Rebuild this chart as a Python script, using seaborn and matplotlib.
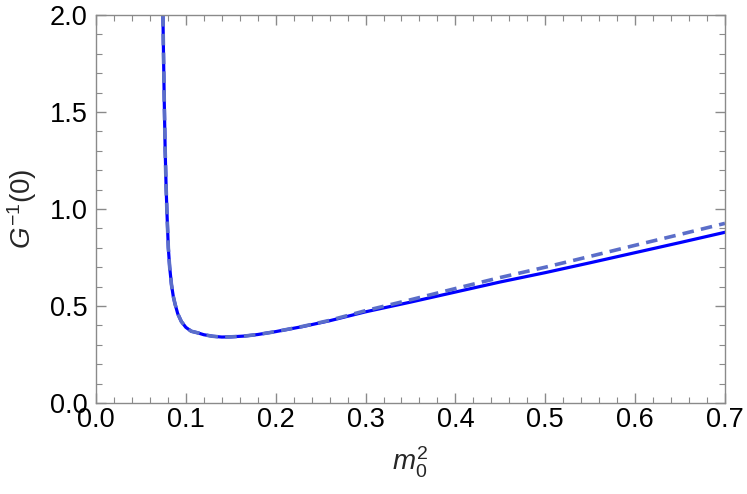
import numpy as np
import pandas as pd
import matplotlib
matplotlib.use("Agg")
import matplotlib.pyplot as plt
import seaborn as sns
from matplotlib.ticker import MultipleLocator

# valores
m2 = [0.0745, 0.0752, 0.0760, 0.0770, 0.0780, 0.0790, 0.0805, 0.0820, 0.0840,
      0.0860, 0.0880, 0.0910, 0.0950, 0.1000, 0.1060, 0.1130, 0.1200, 0.1300,
      0.1400, 0.1500, 0.1650, 0.1800, 0.2000, 0.2300, 0.2600, 0.3000, 0.3500,
      0.4000, 0.4500, 0.5000, 0.5500, 0.6000, 0.6500, 0.7000]
g_full = [2.00, 1.78, 1.55, 1.30, 1.12, 0.98, 0.80, 0.70, 0.61,
          0.55, 0.51, 0.46, 0.42, 0.39, 0.37, 0.362, 0.352, 0.344,
          0.340, 0.341, 0.345, 0.353, 0.368, 0.394, 0.424, 0.470, 0.520,
          0.572, 0.624, 0.672, 0.723, 0.775, 0.827, 0.880]
g_aprox = [2.00, 1.78, 1.55, 1.30, 1.12, 0.98, 0.80, 0.70, 0.61,
           0.55, 0.51, 0.46, 0.42, 0.39, 0.37, 0.362, 0.352, 0.344,
           0.340, 0.341, 0.345, 0.353, 0.368, 0.395, 0.426, 0.476, 0.532,
           0.590, 0.647, 0.700, 0.756, 0.813, 0.869, 0.926]

df = pd.DataFrame({"m2": m2, "full": g_full, "aprox": g_aprox})

sns.set_style("ticks")
plt.rcParams['font.family'] = ['Liberation Sans', 'DejaVu Sans']
plt.rcParams['mathtext.fontset'] = 'custom'
plt.rcParams['mathtext.rm'] = 'Liberation Sans'
plt.rcParams['mathtext.it'] = 'Liberation Sans:italic'

fig = plt.figure(figsize=(7.47, 4.94), dpi=100)
ax = fig.add_axes([0.1285, 0.1842, 0.842, 0.7854])

sns.lineplot(data=df, x="m2", y="full", ax=ax, color="#0000ff", lw=2.3,
             sort=False, estimator=None)
sns.lineplot(data=df, x="m2", y="aprox", ax=ax, color="#5b6ec9", lw=2.6,
             sort=False, estimator=None, dashes=False, linestyle=(0, (3.2, 2.0)))

ax.set_xlim(0, 0.7)
ax.set_ylim(0, 2.0)
ax.xaxis.set_major_locator(MultipleLocator(0.1))
ax.xaxis.set_minor_locator(MultipleLocator(0.02))
ax.yaxis.set_major_locator(MultipleLocator(0.5))
ax.yaxis.set_minor_locator(MultipleLocator(0.1))
ax.xaxis.set_major_formatter(matplotlib.ticker.FormatStrFormatter('%.1f'))
ax.yaxis.set_major_formatter(matplotlib.ticker.FormatStrFormatter('%.1f'))

gris = "#8a8a8a"
for s in ax.spines.values():
    s.set_visible(True)
    s.set_color(gris)
    s.set_linewidth(1.0)
ax.tick_params(which="both", direction="in", top=True, right=True, color=gris,
               labelsize=19.5, labelcolor="black")
ax.tick_params(which="major", length=7, width=1.0)
ax.tick_params(which="minor", length=4, width=0.8)
ax.tick_params(axis="x", which="major", pad=3)
ax.tick_params(axis="y", which="major", pad=6)

ax.set_xlabel(r"$m_0^2$", fontsize=20, labelpad=8)
ax.set_ylabel(r"$G^{-1}(0)$", fontsize=20, labelpad=8)

fig.savefig("out.png", dpi=100)
